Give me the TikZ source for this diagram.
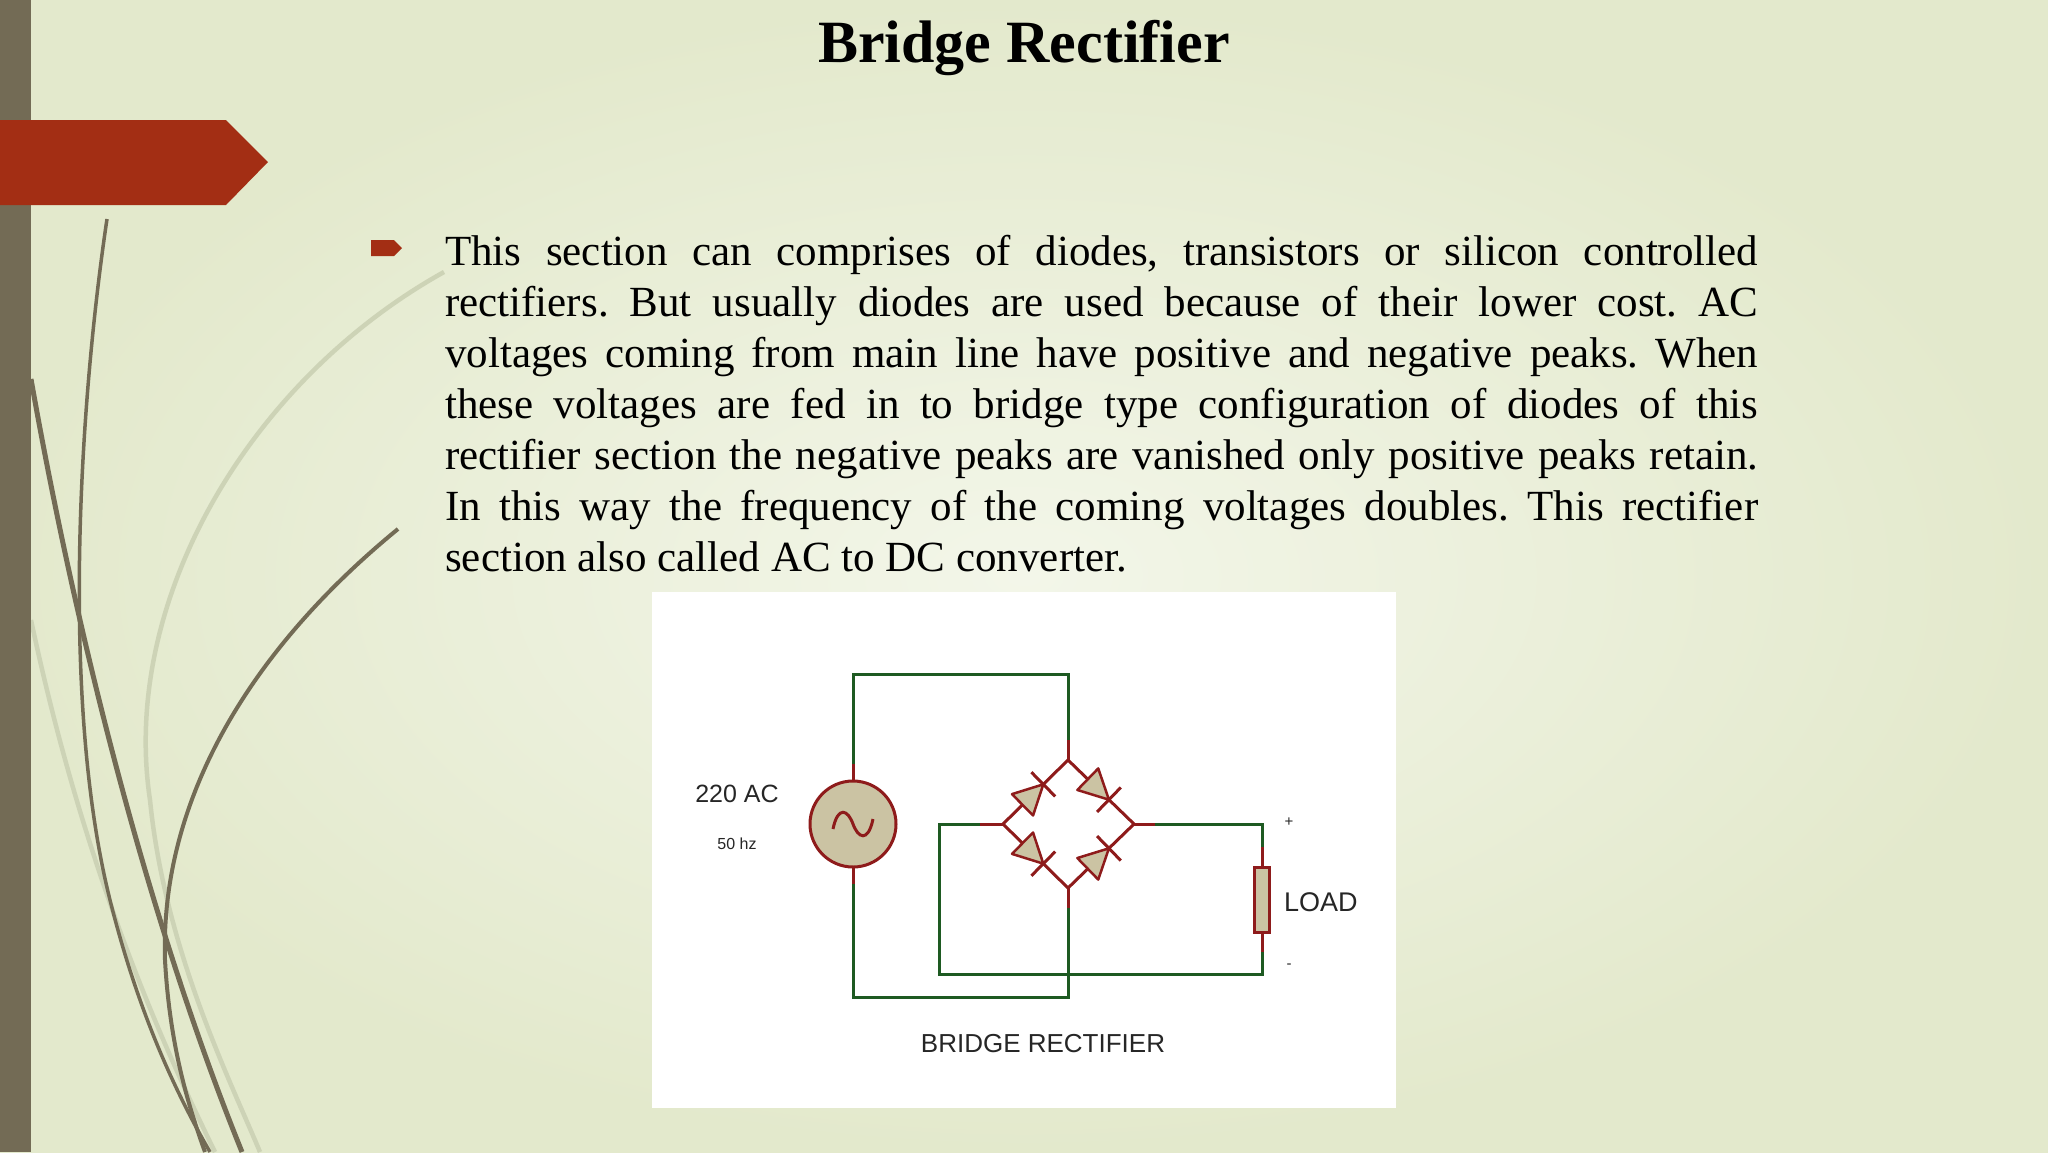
\documentclass[tikz,border=0pt]{standalone}
\usetikzlibrary{calc}
\usepackage{fontspec}
\setmainfont{Liberation Serif}
\newfontfamily\arial{Liberation Sans}
\begin{document}
\begin{tikzpicture}[x=1pt,y=-1pt,
  wire/.style={draw=wgreen,line width=3pt},
  rwire/.style={draw=wred,line width=3pt},
  curvea/.style={draw=curvec,line width=5pt},
  curvel/.style={draw=curvel,line width=4.5pt},
  lbl/.style={font=\arial,text=black!85,inner sep=0pt}]
\definecolor{bg}{HTML}{E3E9CC}
\definecolor{bgc}{HTML}{F3F6E9}
\definecolor{barc}{HTML}{736B55}
\definecolor{curvec}{HTML}{736B55}
\definecolor{curvel}{HTML}{CDD3B6}
\definecolor{redc}{HTML}{A32E14}
\definecolor{wgreen}{HTML}{1E5A22}
\definecolor{wred}{HTML}{8E1B1B}
\definecolor{tan}{HTML}{CBC3A3}
\useasboundingbox (0,0) rectangle (2048,1152);
\shade[inner color=bgc,outer color=bg] (0,0) rectangle (2048,1152);
% curves
\draw[curvel] (444,272) .. controls (250,380) and (120,600) .. (150,800) .. controls (165,950) and (230,1080) .. (260,1152);
\draw[curvel] (31,620) .. controls (80,850) and (150,1020) .. (215,1152);
\draw[curvea,line width=3.5pt] (107,219) .. controls (80,400) and (60,700) .. (110,900) .. controls (140,1020) and (180,1100) .. (210,1152);
\draw[curvea] (31,379) .. controls (70,600) and (140,900) .. (242,1152);
\draw[curvea,line width=4pt] (398,529) .. controls (250,650) and (160,800) .. (165,960) .. controls (170,1050) and (190,1110) .. (205,1152);
\fill[barc] (0,0) rectangle (31,1152);
\fill[redc] (0,120) -- (226,120) -- (268,162) -- (226,205) -- (0,205) -- cycle;
% title
\node (title) at (1024,48) {\fontsize{60}{62}\selectfont\bfseries Bridge Rectifier};
% bullet
\fill[redc] (371,240) -- (394,240) -- (402,248) -- (394,256) -- (371,256) -- cycle;
\node[anchor=north west,inner sep=0pt] (para) at (445,235) {\begin{minipage}{1313pt}\fontsize{43}{51}\selectfont\frenchspacing
This section can comprises of diodes, transistors or silicon controlled\linebreak
rectifiers. But usually diodes are used because of their lower cost. AC\linebreak
voltages coming from main line have positive and negative peaks. When\linebreak
these voltages are fed in to bridge type configuration of diodes of this\linebreak
rectifier section the negative peaks are vanished only positive peaks retain.\linebreak
In this way the frequency of the coming voltages doubles. This rectifier\linebreak
section also called AC to DC converter.\end{minipage}};
% white box
\fill[white] (652,592) rectangle (1396,1108);
% coordinates
\coordinate (T) at (1068,760);
\coordinate (L) at (1003,824);
\coordinate (R) at (1134,824);
\coordinate (B) at (1068,888);
\coordinate (tl) at (853,674);
\coordinate (tr) at (1068,674);
\coordinate (bl) at (853,997);
\coordinate (br) at (1068,997);
\coordinate (il) at (939,824);
\coordinate (ibl) at (939,974);
\coordinate (ibr) at (1262,974);
\coordinate (itr) at (1262,824);
% wires
\draw[wire] (853,764) -- (tl) -- (tr) -- (1068,740);
\draw[wire] (853,884) -- (bl) -- (br) -- (1068,908);
\draw[wire] (980,824) -- (il) -- (ibl) -- (ibr) -- (1262,952);
\draw[wire] (1155,824) -- (itr) -- (1262,847);
\draw[rwire] (1068,740) -- (T);
\draw[rwire] (1068,908) -- (B);
\draw[rwire] (980,824) -- (L);
\draw[rwire] (1155,824) -- (R);
\draw[rwire] (1262,847) -- (1262,867);
\draw[rwire] (1262,932) -- (1262,952);
\draw[rwire] (853,764) -- (853,781);
\draw[rwire] (853,867) -- (853,884);
\draw[rwire,line join=miter] (T) -- (R) -- (B) -- (L) -- cycle;
% source
\node[circle,draw=wred,fill=tan,line width=3pt,minimum size=86pt] (src) at (853,824) {};
\draw[wred,line width=3pt] (833,829) .. controls (838,805) and (848,810) .. (853,824) .. controls (858,838) and (868,843) .. (873,819);
% diodes (anode -> cathode)
\foreach \a/\b in {L/T,L/B,T/R,B/R}{
  \coordinate (b0) at ($(\a)!0.3!(\b)$);
  \coordinate (b1) at ($(\a)!0.62!(\b)$);
  \filldraw[fill=tan,draw=wred,line width=2.5pt,line join=round]
    ($(b0)!15pt!90:(\b)$) -- ($(b0)!15pt!-90:(\b)$) -- (b1) -- cycle;
  \draw[wred,line width=3pt] ($(b1)!17pt!90:(\b)$) -- ($(b1)!17pt!-90:(\b)$);
}
% load
\node[draw=wred,fill=tan,line width=3pt,minimum width=15pt,minimum height=65pt,inner sep=0pt] (load) at (1262,900) {};
% labels
\node[lbl,font=\arial\fontsize{25}{27}\selectfont] (ac) at (737,794) {220 AC};
\node[lbl,font=\arial\fontsize{16}{18}\selectfont] (hz) at (737,844) {50 hz};
\node[lbl,font=\arial\fontsize{27}{28}\selectfont,anchor=west] (lt) at (1284,902) {LOAD};
\node[lbl,font=\arial\fontsize{15}{16}\selectfont] (pl) at (1289,822) {+};
\node[lbl,font=\arial\fontsize{15}{16}\selectfont] (mi) at (1289,966) {-};
\node[lbl,font=\arial\fontsize{26}{27}\selectfont] (brt) at (1043,1044) {BRIDGE RECTIFIER};
\end{tikzpicture}
\end{document}
